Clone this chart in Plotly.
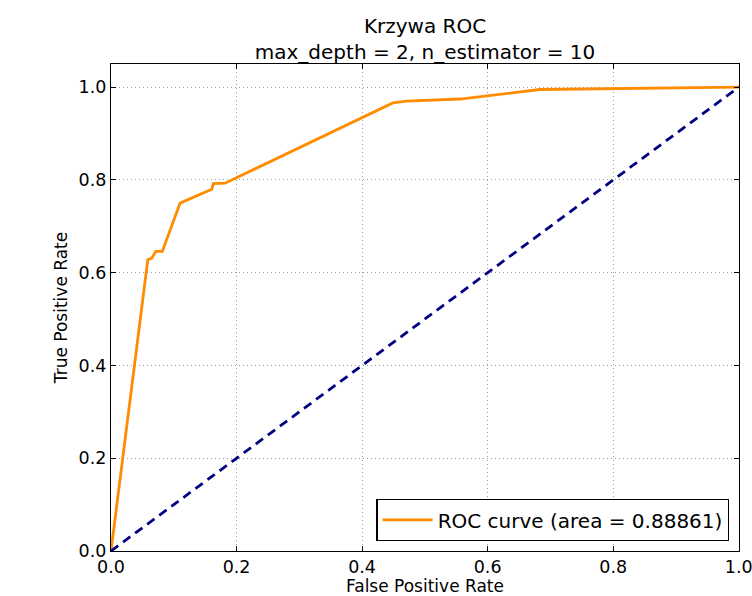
import plotly.graph_objects as go

fpr = [0.0, 0.0586, 0.065, 0.0713, 0.0818, 0.110, 0.1605, 0.163, 0.1817,
       0.449, 0.471, 0.556, 0.683, 1.0]
tpr = [0.0, 0.628, 0.6315, 0.646, 0.646, 0.750, 0.780, 0.792, 0.793,
       0.966, 0.970, 0.9745, 0.995, 1.0]
diag_x = [0.0, 1.0]
diag_y = [0.0, 1.0]
roc_auc = 0.88861
tick_vals = [0.0, 0.2, 0.4, 0.6, 0.8, 1.0]
tick_text = ["0.0", "0.2", "0.4", "0.6", "0.8", "1.0"]

FONT = "DejaVu Sans"

fig = go.Figure()
fig.add_trace(go.Scatter(
    x=fpr, y=tpr, mode="lines",
    line=dict(color="#FF8C00", width=2.8),
    name="ROC curve (area = %0.5f)" % roc_auc,
))
fig.add_trace(go.Scatter(
    x=diag_x, y=diag_y, mode="lines",
    line=dict(color="#000080", width=2.8, dash="9px,6px"),
    showlegend=False,
))

axis_common = dict(
    showline=True, linecolor="black", linewidth=1.3, mirror="ticks",
    ticks="inside", ticklen=5, tickwidth=1, tickcolor="black",
    showgrid=True, gridcolor="#9a9a9a", griddash="1px,3px", gridwidth=1,
    zeroline=False, tickvals=tick_vals, ticktext=tick_text,
    tickfont=dict(family=FONT, size=17.5, color="black"),
    ticklabeloverflow="allow",
    automargin=False,
)

fig.update_layout(
    width=752, height=596,
    margin=dict(l=111, r=13, t=64, b=45),
    paper_bgcolor="white", plot_bgcolor="white",
    font=dict(family=FONT, color="black"),
    title=dict(
        text="Krzywa ROC<br>max_depth = 2, n_estimator = 10",
        x=0.5652, xanchor="center",
        y=1 - 33 / 596, yanchor="top", yref="container",
        font=dict(family=FONT, size=20, color="black"),
    ),
    xaxis=dict(
        range=[0, 1.0004], title=dict(text="False Positive Rate",
                                      font=dict(family=FONT, size=17), standoff=7),
        **axis_common,
    ),
    yaxis=dict(
        range=[0, 1.05], title=dict(text="True Positive Rate",
                                    font=dict(family=FONT, size=17), standoff=6),
        **axis_common,
    ),
    legend=dict(
        x=0.9846, y=0.0205, xanchor="right", yanchor="bottom",
        bgcolor="white", bordercolor="black", borderwidth=1.3,
        itemwidth=50,
        font=dict(family=FONT, size=20, color="black"),
    ),
)

fig.write_html("out.html")
